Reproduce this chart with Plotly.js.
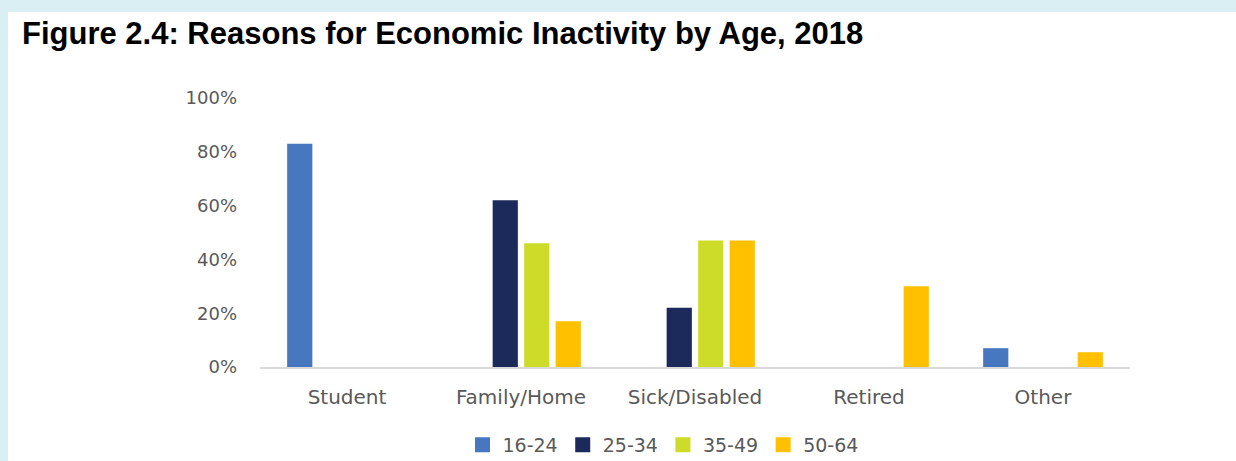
<!DOCTYPE html>
<html><head><meta charset="utf-8">
<script src="https://cdn.plot.ly/plotly-3.0.1.min.js"></script>
<style>
html,body{margin:0;padding:0;background:#daeff3;width:1236px;height:461px;overflow:hidden;}
#chart{position:absolute;left:8px;top:12px;width:1228px;height:449px;background:#fff;}
</style></head>
<body><div id="chart"></div>
<script>
const categories = ["Student","Family/Home","Sick/Disabled","Retired","Other"];
const seriesNames = ["16-24","25-34","35-49","50-64"];
const age16_24 = [83, 0, 0, 0, 7];
const age25_34 = [0, 62, 22, 0, 0];
const age35_49 = [0, 46, 47, 0, 0];
const age50_64 = [0, 17, 47, 30, 5.5];
const colors = ["#4677bf","#1b2a5a","#cddc29","#ffc000"];
const values = [age16_24, age25_34, age35_49, age50_64];

const traces = values.map((v,i)=>({
  type:'bar', x:categories, y:v.map(d=>d/100), name:seriesNames[i],
  marker:{color:colors[i]}, hoverinfo:'none', showlegend:false
}));
// legend entries with larger square swatches
seriesNames.forEach((n,i)=>traces.push({
  type:'scatter', mode:'markers', x:[null], y:[null], name:n,
  marker:{symbol:'square', size:15, color:colors[i]}, hoverinfo:'none', showlegend:true
}));

const layout = {
  width:1228, height:449,
  margin:{l:252, r:106, t:86, b:94},
  paper_bgcolor:'#ffffff', plot_bgcolor:'#ffffff',
  barmode:'group', bargap:0.276, bargroupgap:0.2,
  font:{family:'DejaVu Sans, sans-serif', color:'#595959', size:18},
  title:{text:'<b>Figure 2.4: Reasons for Economic Inactivity by Age, 2018</b>',
    font:{family:'Liberation Sans, Arial, sans-serif', size:31, color:'#000'},
    x:14/1228, xanchor:'left', xref:'container', y:1-21/449, yanchor:'middle', yref:'container'},
  xaxis:{showgrid:false, zeroline:false, showline:true, linecolor:'#d9d9d9', linewidth:1.5,
    ticks:'', ticklabelstandoff:11, tickfont:{size:20, color:'#595959'}, fixedrange:true},
  yaxis:{range:[0,1], tickvals:[0,0.2,0.4,0.6,0.8,1], tickformat:'.0%', showgrid:false,
    zeroline:false, showline:false, ticks:'', ticklabelstandoff:22, tickfont:{size:18, color:'#595959'}},
  showlegend:true,
  legend:{orientation:'h', x:655/1228, xanchor:'center', xref:'container',
    y:1-433/449, yanchor:'middle', yref:'container',
    font:{size:19, color:'#595959'}, itemclick:false, traceorder:'normal'}
};
Plotly.newPlot('chart', traces, layout, {displayModeBar:false, staticPlot:true});
</script></body></html>
